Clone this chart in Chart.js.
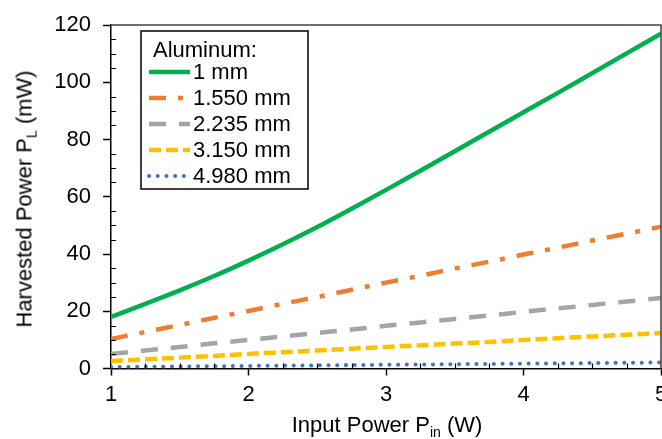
<!DOCTYPE html>
<html lang="en">
<head>
<meta charset="utf-8"/>
<title>Harvested Power vs Input Power</title>
<script src="https://cdn.jsdelivr.net/npm/chart.js"></script>
<style>
  body { margin: 0; background: #fff; }
  .wrap { position: relative; width: 662px; height: 439px; }
  .axis-title { position: absolute; white-space: nowrap; font: 22px 'Liberation Sans', Arial, sans-serif; line-height: 22px; color: #000; }
  .axis-title span { font-size: 14px; vertical-align: -5px; }
  #x-title { left: 387px; top: 414px; transform: translateX(-50%); }
  #y-title { left: 28px; top: 199px; transform: translate(-50%, -50%) rotate(-90deg); }
</style>
</head>
<body>
<div class="wrap">
  <canvas id="chart" width="662" height="439"></canvas>
  <div class="axis-title" id="x-title">Input Power P<span>in</span> (W)</div>
  <div class="axis-title" id="y-title">Harvested Power P<span>L</span> (mW)</div>
</div>
<script>
  // input power (W)
  const inputPower = [1, 1.25, 1.5, 1.75, 2, 2.25, 2.5, 2.75, 3, 3.25, 3.5, 3.75, 4, 4.25, 4.5, 4.75, 5];
  // harvested power (mW) for each aluminum thickness
  const al1000 = [18.0, 22.6, 27.3, 32.3, 37.7, 43.4, 49.4, 55.8, 62.4, 69.1, 75.9, 82.7, 89.5, 96.3, 103.2, 110.1, 117.0];
  const al1550 = [10.3, 12.8, 15.2, 17.7, 20.1, 22.6, 25.0, 27.5, 30.0, 32.4, 34.9, 37.3, 39.8, 42.2, 44.7, 47.1, 49.5];
  const al2235 = [5.1, 6.3, 7.5, 8.8, 10.0, 11.2, 12.4, 13.6, 14.9, 16.1, 17.3, 18.5, 19.8, 21.0, 22.2, 23.4, 24.6];
  const al3150 = [2.6, 3.2, 3.8, 4.4, 5.1, 5.7, 6.3, 6.9, 7.5, 8.1, 8.7, 9.3, 10.0, 10.6, 11.2, 11.8, 12.4];
  const al4980 = [0.5, 0.6, 0.7, 0.8, 0.9, 1.0, 1.1, 1.2, 1.3, 1.4, 1.5, 1.6, 1.7, 1.8, 1.9, 2.0, 2.1];
  const seriesNames = ['1 mm', '1.550 mm', '2.235 mm', '3.150 mm', '4.980 mm'];
  const legendTitle = 'Aluminum:';
  const xTicks = [1, 2, 3, 4, 5];
  const yTicks = [0, 20, 40, 60, 80, 100, 120];
  const xMinorStep = 0.25;
  const yMinorStep = 5;

  const FONT = "'Liberation Sans', Arial, sans-serif";
  Chart.defaults.font.family = FONT;
  Chart.defaults.color = '#000';

  const pts = ys => inputPower.map((x, i) => ({ x: x, y: ys[i] }));

  // top/right frame + inward minor ticks
  const framePlugin = {
    id: 'frame',
    afterDraw(chart) {
      const { ctx, chartArea: a } = chart;
      const xs = chart.scales.x, ys = chart.scales.y;
      ctx.save();
      ctx.strokeStyle = '#404040';
      ctx.lineWidth = 1.5;
      ctx.beginPath();
      ctx.moveTo(a.left, a.top);
      ctx.lineTo(a.right, a.top);
      ctx.lineTo(a.right, a.bottom);
      ctx.stroke();

      ctx.strokeStyle = '#000';
      ctx.lineWidth = 1.2;
      ctx.beginPath();
      for (let v = xs.min + xMinorStep; v < xs.max; v += xMinorStep) {
        if (xTicks.includes(v)) continue;
        const px = Math.round(xs.getPixelForValue(v)) + 0.5;
        ctx.moveTo(px, a.bottom);
        ctx.lineTo(px, a.bottom - 5);
      }
      for (let v = ys.min + yMinorStep; v < ys.max; v += yMinorStep) {
        if (yTicks.includes(v)) continue;
        const py = Math.round(ys.getPixelForValue(v)) + 0.5;
        ctx.moveTo(a.left, py);
        ctx.lineTo(a.left + 5, py);
      }
      ctx.stroke();
      ctx.restore();
    }
  };

  const legendPlugin = {
    id: 'boxLegend',
    afterDatasetsDraw(chart) {
      const ctx = chart.ctx;
      ctx.save();
      ctx.fillStyle = '#fff';
      ctx.fillRect(141, 31, 167, 158);
      ctx.strokeStyle = '#000';
      ctx.lineWidth = 1.5;
      ctx.strokeRect(141, 31, 167, 158);
      ctx.font = '22px ' + FONT;
      ctx.textBaseline = 'middle';
      ctx.fillStyle = '#000';
      ctx.fillText(legendTitle, 153, 51);
      chart.data.datasets.forEach((ds, i) => {
        const y = 72 + i * 26;
        ctx.strokeStyle = ds.borderColor;
        ctx.lineWidth = ds.borderWidth;
        ctx.lineCap = ds.borderCapStyle || 'butt';
        ctx.setLineDash(ds.borderDash || []);
        ctx.beginPath();
        ctx.moveTo(149, y);
        ctx.lineTo(190, y);
        ctx.stroke();
        ctx.setLineDash([]);
        ctx.fillStyle = '#000';
        ctx.fillText(ds.label, 193, y + 1);
      });
      ctx.restore();
    }
  };

  new Chart(document.getElementById('chart'), {
    type: 'line',
    data: {
      datasets: [
        { label: seriesNames[0], data: pts(al1000), borderColor: '#00B050', borderWidth: 4.5 },
        { label: seriesNames[1], data: pts(al1550), borderColor: '#ED7D31', borderWidth: 4.5, borderDash: [17, 12, 5, 12] },
        { label: seriesNames[2], data: pts(al2235), borderColor: '#A5A5A5', borderWidth: 4.5, borderDash: [17, 13] },
        { label: seriesNames[3], data: pts(al3150), borderColor: '#FFC000', borderWidth: 4.5, borderDash: [12, 5] },
        { label: seriesNames[4], data: pts(al4980), borderColor: '#4472C4', borderWidth: 4, borderDash: [0.1, 8.6], borderCapStyle: 'round' }
      ]
    },
    options: {
      responsive: false,
      animation: false,
      layout: { padding: { top: 25, right: 1, left: 0, bottom: 0 } },
      elements: { point: { radius: 0 }, line: { cubicInterpolationMode: 'monotone' } },
      plugins: { legend: { display: false }, tooltip: { enabled: false } },
      scales: {
        x: {
          type: 'linear', min: 1, max: 5,
          afterBuildTicks: s => { s.ticks = xTicks.map(v => ({ value: v })); },
          afterFit: s => { s.height = 70.5; s.paddingLeft = 0; s.paddingRight = 0; },
          grid: { drawOnChartArea: false, tickLength: 7, tickColor: '#000', tickWidth: 1.5 },
          border: { color: '#000', width: 1.5 },
          ticks: { font: { size: 22 }, color: '#000', padding: 6, maxRotation: 0 }
        },
        y: {
          min: 0, max: 120,
          afterBuildTicks: s => { s.ticks = yTicks.map(v => ({ value: v })); },
          afterFit: s => { s.width = 111; s.paddingTop = 0; s.paddingBottom = 0; },
          grid: { drawOnChartArea: false, tickLength: 8, tickColor: '#000', tickWidth: 1.5 },
          border: { color: '#000', width: 1.5 },
          ticks: { font: { size: 22 }, color: '#000', padding: 12 }
        }
      }
    },
    plugins: [framePlugin, legendPlugin]
  });
</script>
</body>
</html>
